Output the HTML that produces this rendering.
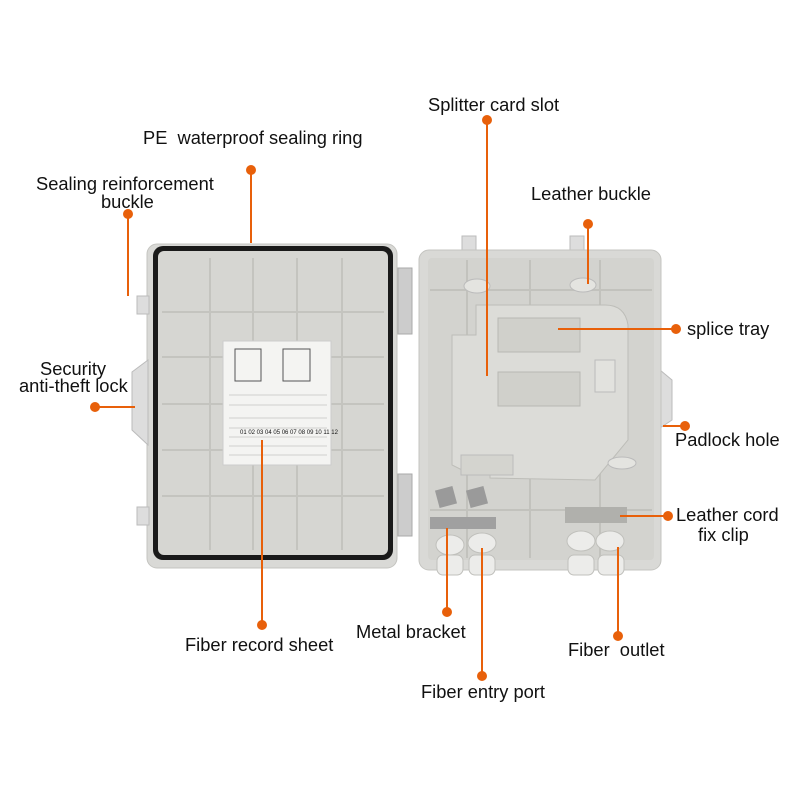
<!DOCTYPE html>
<html><head><style>
body{margin:0;background:#fff;}
svg{display:block;font-family:"Liberation Sans",sans-serif;}
text{font-size:18.3px;fill:#111;white-space:pre;}
</style></head><body>
<svg width="800" height="800" viewBox="0 0 800 800" xml:space="preserve">
<!-- left lid -->
<rect x="147" y="244" width="250" height="324" rx="10" fill="#d9d9d6" stroke="#c4c4c0"/>
<rect x="137" y="296" width="12" height="18" fill="#ddd" stroke="#bbb"/>
<rect x="137" y="507" width="12" height="18" fill="#ddd" stroke="#bbb"/>
<path d="M148 360 L132 372 L132 430 L148 445 Z" fill="#ddd" stroke="#bbb"/>
<rect x="153" y="246" width="240" height="314" rx="10" fill="#1a1a1a"/>
<rect x="158" y="251" width="230" height="304" rx="6" fill="#d6d6d2"/>
<g stroke="#c4c4bf" stroke-width="2" fill="none">
<line x1="210" y1="258" x2="210" y2="550"/><line x1="253" y1="258" x2="253" y2="550"/>
<line x1="297" y1="258" x2="297" y2="550"/><line x1="342" y1="258" x2="342" y2="550"/>
<line x1="162" y1="312" x2="384" y2="312"/><line x1="162" y1="357" x2="384" y2="357"/>
<line x1="162" y1="404" x2="384" y2="404"/><line x1="162" y1="450" x2="384" y2="450"/>
<line x1="162" y1="496" x2="384" y2="496"/>
</g>
<rect x="223" y="341" width="108" height="124" fill="#f4f4f2" stroke="#ccc"/>
<rect x="235" y="349" width="26" height="32" fill="none" stroke="#555"/>
<rect x="283" y="349" width="27" height="32" fill="none" stroke="#555"/>
<g stroke="#aaa" stroke-width="0.6">
<line x1="229" y1="395" x2="327" y2="395"/><line x1="229" y1="405" x2="327" y2="405"/>
<line x1="229" y1="418" x2="327" y2="418"/><line x1="229" y1="428" x2="327" y2="428"/>
<line x1="229" y1="437" x2="327" y2="437"/><line x1="229" y1="446" x2="327" y2="446"/>
<line x1="229" y1="455" x2="327" y2="455"/>
</g>
<text x="240" y="434" style="font-size:6px">01 02 03 04 05 06 07 08 09 10 11 12</text>
<!-- hinges -->
<rect x="398" y="268" width="14" height="66" fill="#ccc" stroke="#aaa"/>
<rect x="398" y="474" width="14" height="62" fill="#ccc" stroke="#aaa"/>
<!-- right box -->
<rect x="462" y="236" width="14" height="16" fill="#ddd" stroke="#bbb"/>
<rect x="570" y="236" width="14" height="16" fill="#ddd" stroke="#bbb"/>
<path d="M660 370 L672 380 L672 420 L660 428 Z" fill="#ddd" stroke="#bbb"/>
<rect x="419" y="250" width="242" height="320" rx="10" fill="#d9d9d6" stroke="#c4c4c0"/>
<rect x="428" y="258" width="226" height="302" rx="4" fill="#d3d3cf"/>
<g stroke="#c2c2bd" stroke-width="2">
<line x1="467" y1="260" x2="467" y2="558"/><line x1="530" y1="260" x2="530" y2="558"/>
<line x1="600" y1="260" x2="600" y2="558"/>
<line x1="430" y1="290" x2="652" y2="290"/><line x1="430" y1="510" x2="652" y2="510"/>
</g>
<path d="M476 305 L605 305 Q625 305 628 325 L628 440 L595 480 L490 478 L490 470 L462 470 L452 465 L452 335 L476 335 Z" fill="#dcdcd8" stroke="#bdbdb8"/>
<rect x="498" y="318" width="82" height="34" fill="#d0d0cb" stroke="#b8b8b3"/>
<rect x="498" y="372" width="82" height="34" fill="#d0d0cb" stroke="#b8b8b3"/>
<rect x="461" y="455" width="52" height="20" fill="#d4d4cf" stroke="#bbb"/>
<rect x="595" y="360" width="20" height="32" fill="#e2e2de" stroke="#bbb"/>
<ellipse cx="477" cy="286" rx="13" ry="7" fill="#e4e4e0" stroke="#bbb"/>
<ellipse cx="583" cy="285" rx="13" ry="7" fill="#e4e4e0" stroke="#bbb"/>
<ellipse cx="622" cy="463" rx="14" ry="6" fill="#e4e4e0" stroke="#bbb"/>
<rect x="437" y="488" width="18" height="18" fill="#9a9a9a" transform="rotate(-15 446 497)"/>
<rect x="468" y="488" width="18" height="18" fill="#9a9a9a" transform="rotate(-15 477 497)"/>
<rect x="430" y="517" width="66" height="12" fill="#a0a0a0"/>
<rect x="565" y="507" width="62" height="16" fill="#b0b0ac"/>
<g fill="#ececea" stroke="#c0c0bc">
<ellipse cx="450" cy="545" rx="14" ry="10"/><ellipse cx="482" cy="543" rx="14" ry="10"/>
<ellipse cx="581" cy="541" rx="14" ry="10"/><ellipse cx="610" cy="541" rx="14" ry="10"/>
<rect x="437" y="555" width="26" height="20" rx="6"/><rect x="469" y="555" width="26" height="20" rx="6"/>
<rect x="568" y="555" width="26" height="20" rx="6"/><rect x="598" y="555" width="26" height="20" rx="6"/>
</g>
<!-- leaders -->
<g stroke="#e8600a" stroke-width="2" fill="#e8600a">
<line x1="251" y1="170" x2="251" y2="243"/><circle cx="251" cy="170" r="4"/>
<line x1="128" y1="214" x2="128" y2="296"/><circle cx="128" cy="214" r="4"/>
<line x1="95" y1="407" x2="135" y2="407"/><circle cx="95" cy="407" r="4"/>
<line x1="487" y1="120" x2="487" y2="376"/><circle cx="487" cy="120" r="4"/>
<line x1="588" y1="224" x2="588" y2="284"/><circle cx="588" cy="224" r="4"/>
<line x1="558" y1="329" x2="676" y2="329"/><circle cx="676" cy="329" r="4"/>
<line x1="663" y1="426" x2="685" y2="426"/><circle cx="685" cy="426" r="4"/>
<line x1="620" y1="516" x2="668" y2="516"/><circle cx="668" cy="516" r="4"/>
<line x1="262" y1="440" x2="262" y2="625"/><circle cx="262" cy="625" r="4"/>
<line x1="447" y1="528" x2="447" y2="612"/><circle cx="447" cy="612" r="4"/>
<line x1="482" y1="548" x2="482" y2="676"/><circle cx="482" cy="676" r="4"/>
<line x1="618" y1="547" x2="618" y2="636"/><circle cx="618" cy="636" r="4"/>
</g>
<text x="428" y="111">Splitter card slot</text>
<text x="143" y="144">PE  waterproof sealing ring</text>
<text x="36" y="190">Sealing reinforcement</text>
<text x="101" y="208">buckle</text>
<text x="531" y="200">Leather buckle</text>
<text x="687" y="335">splice tray</text>
<text x="40" y="375">Security</text>
<text x="19" y="392">anti-theft lock</text>
<text x="675" y="446">Padlock hole</text>
<text x="676" y="521">Leather cord</text>
<text x="698" y="541">fix clip</text>
<text x="185" y="651">Fiber record sheet</text>
<text x="356" y="638">Metal bracket</text>
<text x="568" y="656">Fiber  outlet</text>
<text x="421" y="698">Fiber entry port</text>
</svg>
</body></html>
